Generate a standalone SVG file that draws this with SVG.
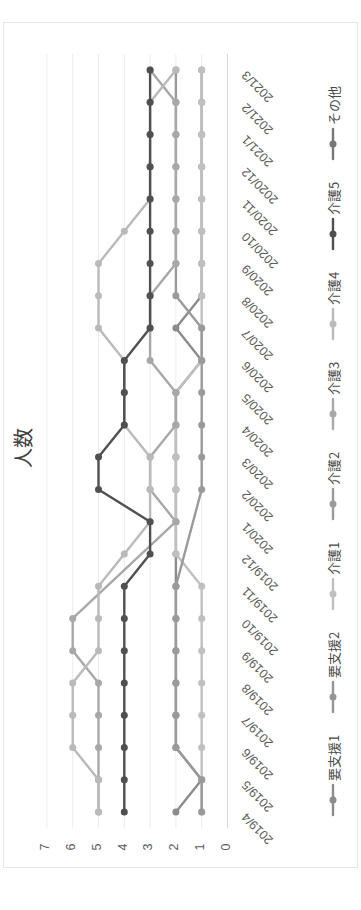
<svg xmlns="http://www.w3.org/2000/svg" width="361" height="910" viewBox="0 0 361 910">
<style>
.grid{stroke:#ececec;stroke-width:1}
.axis{stroke:#d6d6d6;stroke-width:1}
.s{fill:none;stroke-width:2.4;stroke-linejoin:round;stroke-linecap:round}
.lab{font-family:"Liberation Sans","Noto Sans",sans-serif;font-size:12.5px;fill:#5a5a5a}
.ylab{font-family:"Liberation Sans","Noto Sans",sans-serif;font-size:12.5px;fill:#5a5a5a}
.leg{font-family:"Noto Sans CJK JP","Noto Sans",sans-serif;font-size:13px;fill:#4a4a4a}
.title{font-family:"Noto Sans CJK JP","Noto Sans",sans-serif;font-size:20px;fill:#404040}
</style>
<defs>
<marker id="mP" viewBox="-4 -4 8 8" markerWidth="8" markerHeight="8" markerUnits="userSpaceOnUse"><circle r="3.5" fill="#8c8c8c"/></marker>
<marker id="mS" viewBox="-4 -4 8 8" markerWidth="8" markerHeight="8" markerUnits="userSpaceOnUse"><circle r="3.5" fill="#9a9a9a"/></marker>
<marker id="mQ" viewBox="-4 -4 8 8" markerWidth="8" markerHeight="8" markerUnits="userSpaceOnUse"><circle r="3.5" fill="#c0c0c0"/></marker>
<marker id="mM" viewBox="-4 -4 8 8" markerWidth="8" markerHeight="8" markerUnits="userSpaceOnUse"><circle r="3.5" fill="#a8a8a8"/></marker>
<marker id="mL" viewBox="-4 -4 8 8" markerWidth="8" markerHeight="8" markerUnits="userSpaceOnUse"><circle r="3.5" fill="#bababa"/></marker>
<marker id="mD" viewBox="-4 -4 8 8" markerWidth="8" markerHeight="8" markerUnits="userSpaceOnUse"><circle r="3.5" fill="#505050"/></marker>
<marker id="mS2" viewBox="-4 -4 8 8" markerWidth="8" markerHeight="8" markerUnits="userSpaceOnUse"><circle r="3.5" fill="#959595"/></marker>
<marker id="mO" viewBox="-4 -4 8 8" markerWidth="8" markerHeight="8" markerUnits="userSpaceOnUse"><circle r="3.5" fill="#777777"/></marker>
</defs>
<rect x="0" y="0" width="361" height="910" fill="#ffffff"/>
<rect x="3.5" y="22.5" width="354" height="845" fill="none" stroke="#e6e6e6" stroke-width="1"/>

<g id="title"><text class="title" transform="translate(22,448) rotate(-90)" text-anchor="middle" dominant-baseline="central">人数</text></g>

<g id="gridlines">
<line class="grid" x1="46.9" y1="54" x2="46.9" y2="828"/>
<line class="grid" x1="72.7" y1="54" x2="72.7" y2="828"/>
<line class="grid" x1="98.5" y1="54" x2="98.5" y2="828"/>
<line class="grid" x1="124.3" y1="54" x2="124.3" y2="828"/>
<line class="grid" x1="150.1" y1="54" x2="150.1" y2="828"/>
<line class="grid" x1="175.9" y1="54" x2="175.9" y2="828"/>
<line class="grid" x1="201.7" y1="54" x2="201.7" y2="828"/>
<line class="axis" x1="227.5" y1="54" x2="227.5" y2="828"/>
</g>

<g id="y-axis-labels">
<text class="ylab" transform="translate(45,847) rotate(-90)" text-anchor="middle" dominant-baseline="central">7</text>
<text class="ylab" transform="translate(71,847) rotate(-90)" text-anchor="middle" dominant-baseline="central">6</text>
<text class="ylab" transform="translate(97,847) rotate(-90)" text-anchor="middle" dominant-baseline="central">5</text>
<text class="ylab" transform="translate(122.5,847) rotate(-90)" text-anchor="middle" dominant-baseline="central">4</text>
<text class="ylab" transform="translate(148,847) rotate(-90)" text-anchor="middle" dominant-baseline="central">3</text>
<text class="ylab" transform="translate(174,847) rotate(-90)" text-anchor="middle" dominant-baseline="central">2</text>
<text class="ylab" transform="translate(200,847) rotate(-90)" text-anchor="middle" dominant-baseline="central">1</text>
<text class="ylab" transform="translate(226,847) rotate(-90)" text-anchor="middle" dominant-baseline="central">0</text>
</g>

<g id="x-axis-labels">
<text class="lab" transform="translate(244,815) rotate(-135)" text-anchor="end" dominant-baseline="central">2019/4</text>
<text class="lab" transform="translate(244,782.7) rotate(-135)" text-anchor="end" dominant-baseline="central">2019/5</text>
<text class="lab" transform="translate(244,750.5) rotate(-135)" text-anchor="end" dominant-baseline="central">2019/6</text>
<text class="lab" transform="translate(244,718.2) rotate(-135)" text-anchor="end" dominant-baseline="central">2019/7</text>
<text class="lab" transform="translate(244,686) rotate(-135)" text-anchor="end" dominant-baseline="central">2019/8</text>
<text class="lab" transform="translate(244,653.7) rotate(-135)" text-anchor="end" dominant-baseline="central">2019/9</text>
<text class="lab" transform="translate(244,621.4) rotate(-135)" text-anchor="end" dominant-baseline="central">2019/10</text>
<text class="lab" transform="translate(244,589.2) rotate(-135)" text-anchor="end" dominant-baseline="central">2019/11</text>
<text class="lab" transform="translate(244,556.9) rotate(-135)" text-anchor="end" dominant-baseline="central">2019/12</text>
<text class="lab" transform="translate(244,524.7) rotate(-135)" text-anchor="end" dominant-baseline="central">2020/1</text>
<text class="lab" transform="translate(244,492.4) rotate(-135)" text-anchor="end" dominant-baseline="central">2020/2</text>
<text class="lab" transform="translate(244,460.1) rotate(-135)" text-anchor="end" dominant-baseline="central">2020/3</text>
<text class="lab" transform="translate(244,427.9) rotate(-135)" text-anchor="end" dominant-baseline="central">2020/4</text>
<text class="lab" transform="translate(244,395.6) rotate(-135)" text-anchor="end" dominant-baseline="central">2020/5</text>
<text class="lab" transform="translate(244,363.4) rotate(-135)" text-anchor="end" dominant-baseline="central">2020/6</text>
<text class="lab" transform="translate(244,331.1) rotate(-135)" text-anchor="end" dominant-baseline="central">2020/7</text>
<text class="lab" transform="translate(244,298.8) rotate(-135)" text-anchor="end" dominant-baseline="central">2020/8</text>
<text class="lab" transform="translate(244,266.6) rotate(-135)" text-anchor="end" dominant-baseline="central">2020/9</text>
<text class="lab" transform="translate(244,234.3) rotate(-135)" text-anchor="end" dominant-baseline="central">2020/10</text>
<text class="lab" transform="translate(244,202.1) rotate(-135)" text-anchor="end" dominant-baseline="central">2020/11</text>
<text class="lab" transform="translate(244,169.8) rotate(-135)" text-anchor="end" dominant-baseline="central">2020/12</text>
<text class="lab" transform="translate(244,137.5) rotate(-135)" text-anchor="end" dominant-baseline="central">2021/1</text>
<text class="lab" transform="translate(244,105.3) rotate(-135)" text-anchor="end" dominant-baseline="central">2021/2</text>
<text class="lab" transform="translate(244,73) rotate(-135)" text-anchor="end" dominant-baseline="central">2021/3</text>
</g>

<g id="series">
<g id="s-youshien1"><polyline class="s" stroke="#8c8c8c" marker-start="url(#mP)" marker-mid="url(#mP)" marker-end="url(#mP)" points="175.9,812 201.7,779.7 175.9,747.5 175.9,715.2 175.9,683 175.9,650.7 175.9,618.4 175.9,586.2 175.9,553.9 175.9,521.7 175.9,489.4 175.9,457.1 175.9,424.9 175.9,392.6 201.7,360.4 175.9,328.1 201.7,295.8 201.7,263.6 201.7,231.3 201.7,199.1 201.7,166.8 201.7,134.5 201.7,102.3 201.7,70"/></g>
<g id="s-kaigo1"><polyline class="s" stroke="#c0c0c0" stroke-width="2" marker-start="url(#mQ)" marker-mid="url(#mQ)" marker-end="url(#mQ)" points="201.7,812 201.7,779.7 201.7,747.5 201.7,715.2 201.7,683 201.7,650.7 201.7,618.4 201.7,586.2 175.9,553.9 175.9,521.7 175.9,489.4 175.9,457.1 175.9,424.9 175.9,392.6 201.7,360.4 201.7,328.1 201.7,295.8 201.7,263.6 201.7,231.3 201.7,199.1 201.7,166.8 201.7,134.5 201.7,102.3 201.7,70"/></g>
<g id="s-kaigo2"><polyline class="s" stroke="#9a9a9a" marker-start="url(#mS)" marker-mid="url(#mS)" marker-end="url(#mS)" points="201.7,812 201.7,779.7 175.9,747.5 175.9,715.2 175.9,683 175.9,650.7 175.9,618.4 175.9,586.2 201.7,489.4 201.7,457.1 201.7,424.9 201.7,392.6 201.7,360.4 201.7,328.1 175.9,295.8 175.9,263.6 175.9,231.3 175.9,199.1 175.9,166.8 175.9,134.5 175.9,102.3 175.9,70"/></g>
<g id="s-kaigo3"><polyline class="s" stroke="#a8a8a8" marker-start="url(#mM)" marker-mid="url(#mM)" marker-end="url(#mM)" points="98.5,812 98.5,779.7 98.5,747.5 98.5,715.2 98.5,683 72.7,650.7 72.7,618.4 175.9,521.7 150.1,489.4 150.1,457.1 175.9,424.9 175.9,392.6 150.1,360.4 150.1,328.1 150.1,295.8 175.9,263.6 175.9,231.3 175.9,199.1 175.9,166.8 175.9,134.5 175.9,102.3 150.1,70"/></g>
<g id="s-kaigo4"><polyline class="s" stroke="#bababa" marker-start="url(#mL)" marker-mid="url(#mL)" marker-end="url(#mL)" points="98.5,812 98.5,779.7 72.7,747.5 72.7,715.2 72.7,683 98.5,650.7 98.5,618.4 98.5,586.2 124.3,553.9 150.1,521.7 150.1,489.4 150.1,457.1 124.3,424.9 124.3,392.6 124.3,360.4 98.5,328.1 98.5,295.8 98.5,263.6 124.3,231.3 150.1,199.1 150.1,166.8 150.1,134.5 150.1,102.3 175.9,70"/></g>
<g id="s-kaigo5"><polyline class="s" stroke="#505050" stroke-width="2.7" marker-start="url(#mD)" marker-mid="url(#mD)" marker-end="url(#mD)" points="124.3,812 124.3,779.7 124.3,747.5 124.3,715.2 124.3,683 124.3,650.7 124.3,618.4 124.3,586.2 150.1,553.9 150.1,521.7 98.5,489.4 98.5,457.1 124.3,424.9 124.3,392.6 124.3,360.4 150.1,328.1 150.1,295.8 150.1,263.6 150.1,231.3 150.1,199.1 150.1,166.8 150.1,134.5 150.1,102.3 150.1,70"/></g>
</g>

<g id="legend">
<g id="legend-youshien1"><polyline class="s" stroke="#8c8c8c" marker-mid="url(#mP)" points="333,815 333,800 333,785"/><text class="leg" transform="translate(333,781) rotate(-90)" dominant-baseline="central">要支援1</text></g>
<g id="legend-youshien2"><polyline class="s" stroke="#959595" marker-mid="url(#mS2)" points="333,712 333,697 333,682"/><text class="leg" transform="translate(333,678) rotate(-90)" dominant-baseline="central">要支援2</text></g>
<g id="legend-kaigo1"><polyline class="s" stroke="#c0c0c0" marker-mid="url(#mQ)" points="333,609 333,594 333,579"/><text class="leg" transform="translate(333,575) rotate(-90)" dominant-baseline="central">介護1</text></g>
<g id="legend-kaigo2"><polyline class="s" stroke="#9a9a9a" marker-mid="url(#mS)" points="333,519 333,504 333,489"/><text class="leg" transform="translate(333,485) rotate(-90)" dominant-baseline="central">介護2</text></g>
<g id="legend-kaigo3"><polyline class="s" stroke="#a8a8a8" marker-mid="url(#mM)" points="333,429 333,414 333,399"/><text class="leg" transform="translate(333,395) rotate(-90)" dominant-baseline="central">介護3</text></g>
<g id="legend-kaigo4"><polyline class="s" stroke="#bababa" marker-mid="url(#mL)" points="333,339 333,324 333,309"/><text class="leg" transform="translate(333,305) rotate(-90)" dominant-baseline="central">介護4</text></g>
<g id="legend-kaigo5"><polyline class="s" stroke="#505050" marker-mid="url(#mD)" points="333,249 333,234 333,219"/><text class="leg" transform="translate(333,215) rotate(-90)" dominant-baseline="central">介護5</text></g>
<g id="legend-sonota"><polyline class="s" stroke="#777777" marker-mid="url(#mO)" points="333,159 333,144 333,129"/><text class="leg" transform="translate(333,125) rotate(-90)" dominant-baseline="central">その他</text></g>
</g>
</svg>
